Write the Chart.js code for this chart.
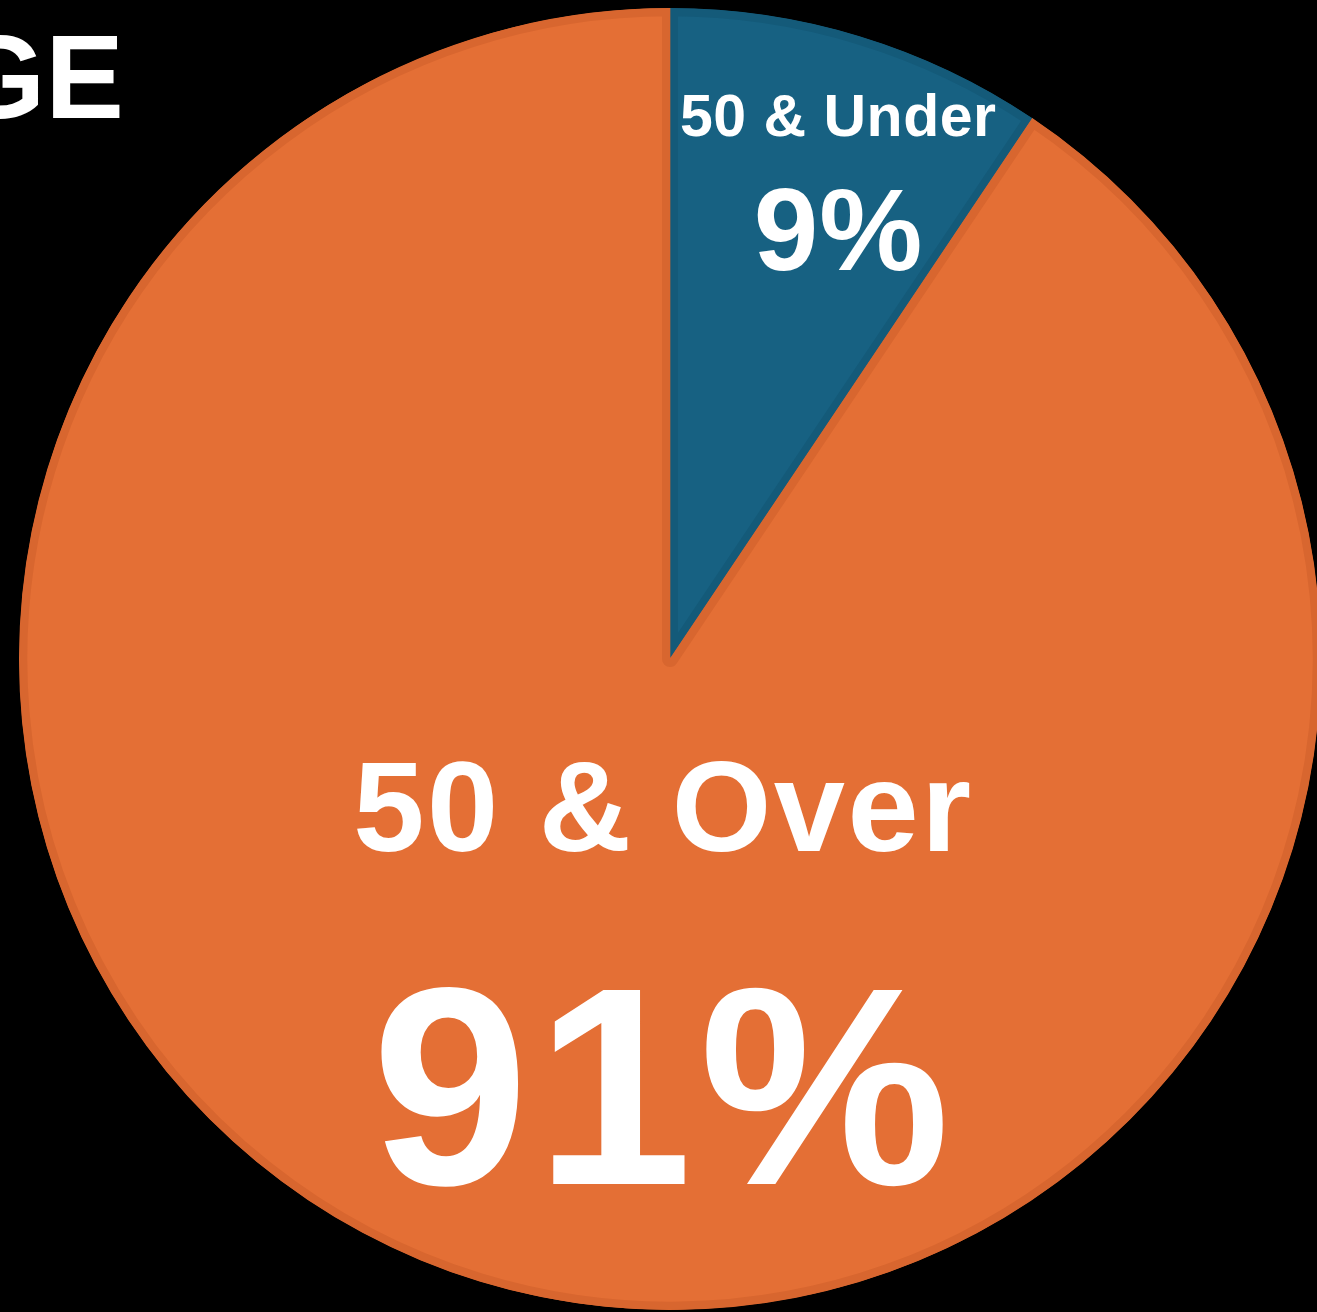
<!DOCTYPE html>
<html>
<head>
<meta charset="utf-8">
<script src="https://cdn.jsdelivr.net/npm/chart.js@4"></script>
<style>
  html, body { margin: 0; padding: 0; background: #000; width: 1317px; height: 1312px; overflow: hidden; position: relative; }
  #wrap { position: absolute; left: 19px; top: 8px; width: 1302px; height: 1302px; }
  #title { position: absolute; right: calc(1317px - 124px); top: 18px; color: #fff; font: bold 118px "Liberation Sans", Arial, sans-serif; white-space: nowrap; line-height: 1; }
</style>
</head>
<body>
<div id="title">AGE</div>
<div id="wrap"><canvas id="c"></canvas></div>
<script>
const categories = ["50 & Under", "50 & Over"];
const values = [9.4, 90.6];
const percentLabels = ["9%", "91%"];
const colors = ["#176182", "#E46F35"];
const borderColors = ["#145A79", "#D8662F"];

const labelPlugin = {
  id: 'sliceLabels',
  afterDatasetsDraw(chart) {
    const ctx = chart.ctx;
    const meta = chart.getDatasetMeta(0);
    const arc0 = meta.data[0];
    const cx = arc0.x, cy = arc0.y, r = arc0.outerRadius;
    const specs = [
      { i: 0, name: { dx: 0.258, dy: -0.829, size: 59, ls: 0.5 }, pct: { dx: 0.258, dy: -0.647, size: 116, ls: 1 } },
      { i: 1, name: { dx: -0.012, dy: 0.241, size: 128, ls: 2.5 }, pct: { dx: -0.014, dy: 0.687, size: 282, ls: 7 } }
    ];
    ctx.save();
    ctx.fillStyle = '#fff';
    ctx.textAlign = 'center';
    ctx.textBaseline = 'middle';
    specs.forEach(s => {
      [[categories[s.i], s.name], [percentLabels[s.i], s.pct]].forEach(([txt, p]) => {
        ctx.font = 'bold ' + p.size + 'px "Liberation Sans", Arial, sans-serif';
        ctx.letterSpacing = p.ls + 'px';
        ctx.fillText(txt, cx + p.dx * r + p.ls / 2, cy + p.dy * r);
      });
    });
    ctx.restore();
  }
};

new Chart(document.getElementById('c'), {
  type: 'pie',
  data: {
    labels: categories,
    datasets: [{
      data: values,
      backgroundColor: colors,
      borderColor: borderColors,
      borderWidth: 8,
      borderAlign: 'inner'
    }]
  },
  options: {
    responsive: true,
    maintainAspectRatio: false,
    animation: false,
    layout: { padding: 0 },
    plugins: { legend: { display: false }, tooltip: { enabled: false }, title: { display: false } }
  },
  plugins: [labelPlugin]
});
</script>
</body>
</html>
